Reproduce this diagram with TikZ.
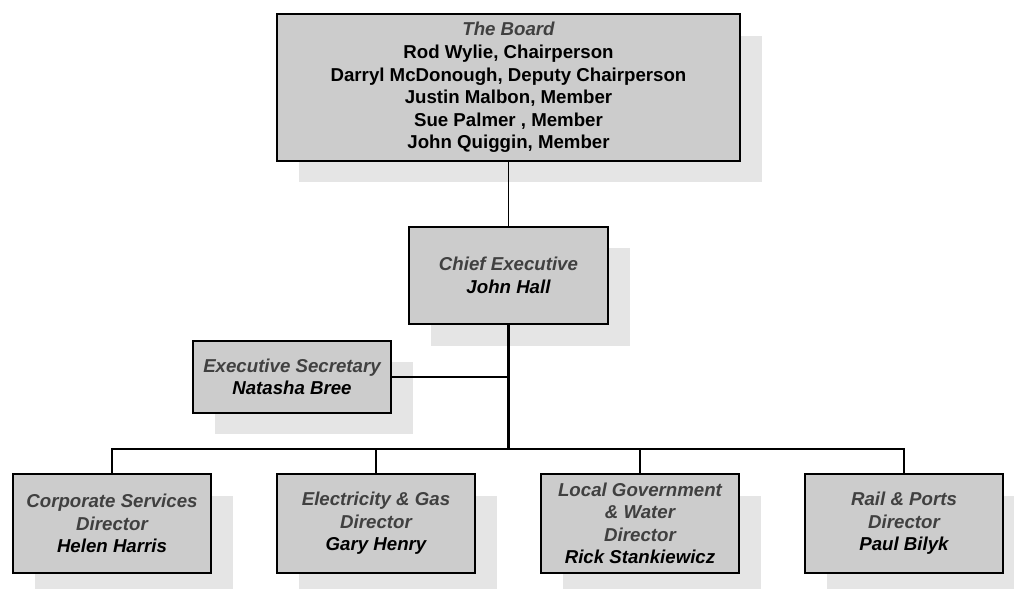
\documentclass[tikz,border=0pt]{standalone}
\usepackage{fontspec}
\setmainfont{Liberation Sans}
\usetikzlibrary{shadows}
\definecolor{boxgray}{RGB}{204,204,204}
\definecolor{shadowgray}{RGB}{229,229,229}
\definecolor{titlegray}{RGB}{64,64,64}
\tikzset{
  orgbox/.style={draw, line width=1.2pt, fill=boxgray, align=center, inner sep=1pt,
    font=\fontsize{14}{16.9}\selectfont\bfseries,
    general shadow={fill=shadowgray, shadow xshift=16.5pt, shadow yshift=-16pt}},
  unitbox/.style={orgbox, minimum width=148.5pt, minimum height=74pt},
  link/.style={line width=1.3pt},
  trunk/.style={line width=2.4pt}
}
\newcommand{\roletitle}[1]{\textcolor{titlegray}{\itshape #1}}
\begin{document}
\begin{tikzpicture}[x=0.75pt,y=-0.75pt]
    \useasboundingbox (0,0) rectangle (1014,589);
    \node[orgbox, minimum width=347pt, minimum height=110pt] (board) at (508.5,87.5)
        {\roletitle{The Board}\\ Rod Wylie, Chairperson\\ Darryl McDonough, Deputy Chairperson\\
         Justin Malbon, Member\\ Sue Palmer , Member\\ John Quiggin, Member};
    \node[orgbox, minimum width=149pt, minimum height=73pt] (ceo) at (508.5,275.5)
        {\roletitle{Chief Executive}\\ \itshape John Hall};
    \node[orgbox, minimum width=148.5pt, minimum height=54pt] (sec) at (292,377)
        {\roletitle{Executive Secretary}\\ \itshape Natasha Bree};
    \node[unitbox] (corp) at (112,523.5) {\roletitle{Corporate Services}\\ \roletitle{Director}\\ \itshape Helen Harris};
    \node[unitbox] (elec) at (376,523.5) {\roletitle{Electricity \& Gas}\\ \roletitle{Director}\\ \itshape Gary Henry};
    \node[unitbox] (localgov) at (640,523.5) {\roletitle{Local Government}\\ \roletitle{\& Water}\\ \roletitle{Director}\\ \itshape Rick Stankiewicz};
    \node[unitbox] (rail) at (904,523.5) {\roletitle{Rail \& Ports}\\ \roletitle{Director}\\ \itshape Paul Bilyk};
    % connectors
    \coordinate (bus) at (508.5,449);
    \draw[link] (board) -- (ceo);
    \draw[trunk] (ceo.south) -- (bus);
    \draw[link] (sec.east) -- (sec.east -| ceo.south);
    \draw[link] (corp.north) |- (bus) -| (rail.north);
    \draw[link] (elec.north) -- (elec.north |- bus);
    \draw[link] (localgov.north) -- (localgov.north |- bus);
\end{tikzpicture}
\end{document}
